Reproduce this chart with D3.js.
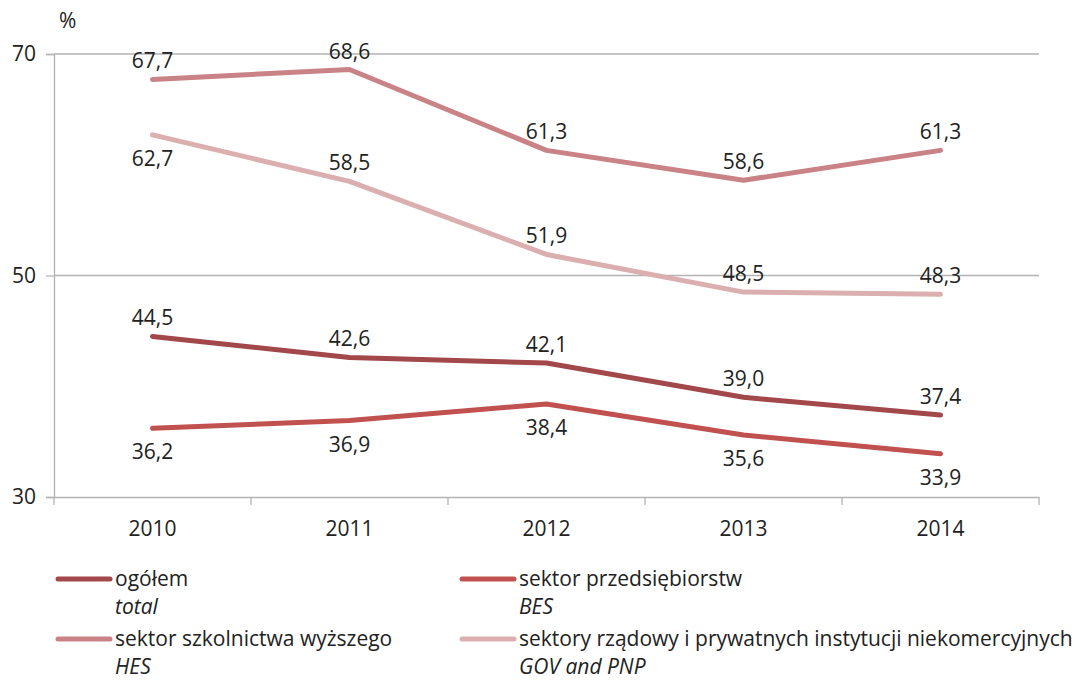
<!DOCTYPE html>
<html><head><meta charset="utf-8">
<script src="https://cdn.jsdelivr.net/npm/d3@7"></script>
<style>body{margin:0;background:#fff}text{font-family:"Open Sans",sans-serif;fill:#222}</style>
</head><body><svg id="c" width="1083" height="680"></svg>
<script>
const years = ["2010","2011","2012","2013","2014"];
const total = [44.5,42.6,42.1,39.0,37.4];
const bes = [36.2,36.9,38.4,35.6,33.9];
const hes = [67.7,68.6,61.3,58.6,61.3];
const gov = [62.7,58.5,51.9,48.5,48.3];
const yTicks = [30,50,70];
const totalPos = ["a","a","a","a","a"];
const besPos = ["b","b","b","b","b"];
const hesPos = ["a","a","a","a","a"];
const govPos = ["b","a","a","a","a"];

const series = [
  {pl:"ogółem", en:"total", v:total, pos:totalPos, c:"#A2474A"},
  {pl:"sektor przedsiębiorstw", en:"BES", v:bes, pos:besPos, c:"#C0514F"},
  {pl:"sektor szkolnictwa wyższego", en:"HES", v:hes, pos:hesPos, c:"#C98286"},
  {pl:"sektory rządowy i prywatnych instytucji niekomercyjnych", en:"GOV and PNP", v:gov, pos:govPos, c:"#DBAFAF"}
];
const FS = "21px";
const svg = d3.select("#c");
const L=54, R=1039, T=54, B=497;
const x = d3.scaleBand().domain(years).range([L,R]);
const y = d3.scaleLinear().domain([30,70]).range([B,T]);

svg.append("g").selectAll("line").data(yTicks.filter(d=>d>30)).join("line")
  .attr("x1",L).attr("x2",R).attr("y1",d=>y(d)).attr("y2",d=>y(d))
  .attr("stroke","#b3b3b3").attr("stroke-width",1.3);

const ya = svg.append("g").attr("transform",`translate(${L},0)`)
  .call(d3.axisLeft(y).tickValues(yTicks).tickSize(8).tickPadding(10).tickFormat(d3.format("d")));
ya.select(".domain").attr("stroke","#b3b3b3").attr("stroke-width",1.3);
ya.selectAll(".tick line").attr("stroke","#b3b3b3").attr("stroke-width",1.3);
ya.selectAll("text").style("font-size",FS).style("font-family","Open Sans").attr("fill","#222");

const xa = svg.append("g").attr("transform",`translate(0,${B})`)
  .call(d3.axisBottom(x).tickSize(0).tickPadding(24));
xa.select(".domain").attr("stroke","#b3b3b3").attr("stroke-width",1.3);
xa.selectAll("text").style("font-size",FS).style("font-family","Open Sans").attr("fill","#222");
const bounds = years.map(d=>x(d)).concat([R]);
svg.append("g").selectAll("line").data(bounds).join("line")
  .attr("x1",d=>d).attr("x2",d=>d).attr("y1",B).attr("y2",B+8)
  .attr("stroke","#b3b3b3").attr("stroke-width",1.3);

svg.append("text").attr("x",59).attr("y",28).style("font-size",FS).text("%");

const line = d3.line().x((d,i)=>x(years[i])+x.bandwidth()/2).y(d=>y(d));
const fmt = v => d3.format(".1f")(v).replace(".",",");

series.forEach(s=>{
  svg.append("path").datum(s.v).attr("d",line).attr("fill","none")
    .attr("stroke",s.c).attr("stroke-width",5).attr("stroke-linecap","round").attr("stroke-linejoin","round");
});
series.forEach(s=>{
  svg.append("g").selectAll("text").data(s.v).join("text")
    .attr("x",(d,i)=>x(years[i])+x.bandwidth()/2)
    .attr("y",(d,i)=>y(d)+(s.pos[i]==="a"?-11:31))
    .attr("text-anchor","middle").style("font-size",FS).text(d=>fmt(d));
});

const lg = [[58,579],[462,579],[58,639],[462,639]];
series.forEach((s,i)=>{
  const [lx,ly]=lg[i];
  svg.append("line").attr("x1",lx).attr("x2",lx+52).attr("y1",ly).attr("y2",ly)
    .attr("stroke",s.c).attr("stroke-width",5).attr("stroke-linecap","round");
  svg.append("text").attr("x",lx+57).attr("y",ly+7).style("font-size",FS).text(s.pl);
  svg.append("text").attr("x",lx+57).attr("y",ly+35).style("font-size",FS).style("font-style","italic").text(s.en);
});
</script></body></html>
